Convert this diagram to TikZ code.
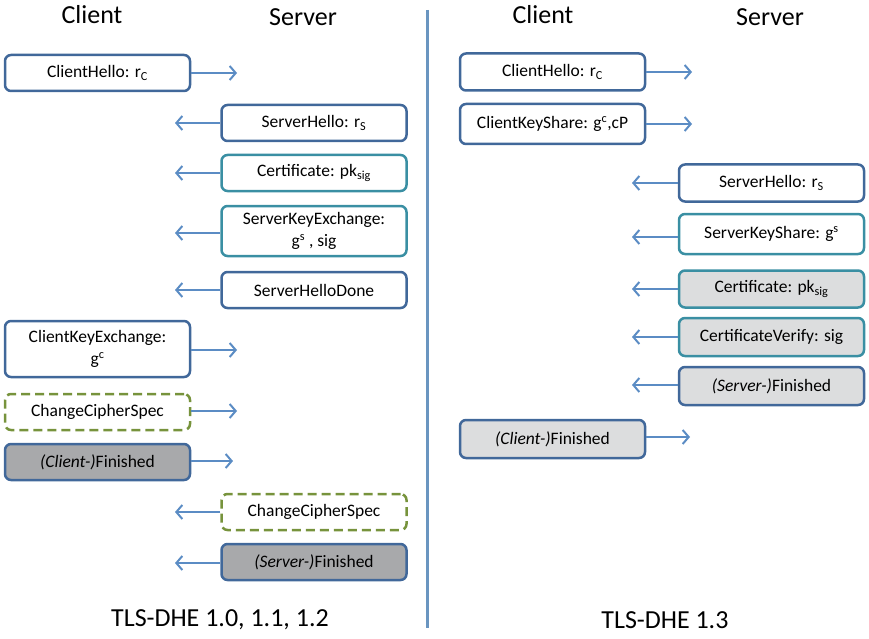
\documentclass[tikz,border=0pt]{standalone}
\usepackage{fontspec}
\setmainfont{Carlito}
\usetikzlibrary{arrows.meta}
\definecolor{bblue}{HTML}{41689A}
\definecolor{bteal}{HTML}{3A8FA3}
\definecolor{bgreen}{HTML}{77933C}
\definecolor{arr}{HTML}{5B8CC4}
\definecolor{dgray}{HTML}{A8A9AB}
\definecolor{lgray}{HTML}{DCDDDE}
\definecolor{divider}{HTML}{6A95C0}
\begin{document}
\begin{tikzpicture}[x=1pt,y=-1pt,
  msgbox/.style={draw=bblue, line width=2.5pt, rounded corners=6pt, minimum width=185pt,
    minimum height=36pt, font=\fontsize{17.5}{22}\selectfont, align=center, inner sep=2pt, text=black},
  tealbox/.style={msgbox, draw=bteal},
  dashbox/.style={msgbox, draw=bgreen, dash pattern=on 9pt off 5pt},
  darkbox/.style={msgbox, fill=dgray},
  lightbox/.style={msgbox, fill=lgray},
  msg/.style={draw=arr, line width=1.8pt, -{Straight Barb[length=6pt,width=14pt,line width=2pt]}},
  head/.style={font=\fontsize{26}{30}\selectfont},
  foot/.style={font=\fontsize{26}{30}\selectfont}]
\useasboundingbox (0,0) rectangle (869,639);

% headers
\node[head] (lcl) at (92,15) {Client};
\node[head] (lsv) at (303,17) {Server};
\node[head] (rcl) at (543,15) {Client};
\node[head] (rsv) at (770,17) {Server};
\node[foot] (lft) at (220,620) {TLS-DHE 1.0, 1.1, 1.2};
\node[foot] (rft) at (665,620) {TLS-DHE 1.3};

% divider
\coordinate (dtop) at (427,10);
\coordinate (dbot) at (427,628);
\draw[divider, line width=3pt] (dtop) -- (dbot);

% left column
\node[msgbox] (ch) at (97.5,73) {ClientHello: r\textsubscript{C}};
\node[msgbox] (sh) at (314,123) {ServerHello: r\textsubscript{S}};
\node[tealbox] (cert) at (314,173) {Certificate: pk\textsubscript{sig}};
\node[tealbox, minimum height=50pt] (ske) at (314,231) {ServerKeyExchange:\\ g\textsuperscript{s} , sig};
\node[msgbox] (shd) at (314,290) {ServerHelloDone};
\node[msgbox, minimum height=56pt] (cke) at (97.5,349) {ClientKeyExchange:\\ g\textsuperscript{c}};
\node[dashbox] (ccs) at (97.5,412) {ChangeCipherSpec};
\node[darkbox] (cf) at (97.5,462) {\textit{(Client-)}Finished};
\node[dashbox] (sccs) at (314,512) {ChangeCipherSpec};
\node[darkbox] (sf) at (314,562) {\textit{(Server-)}Finished};

\coordinate (ch-e) at (237,73);
\coordinate (sh-e) at (175,123);
\coordinate (cert-e) at (175,173);
\coordinate (ske-e) at (175,233);
\coordinate (shd-e) at (175,290);
\coordinate (cke-e) at (237,350);
\coordinate (ccs-e) at (237,411);
\coordinate (cf-e) at (233,461);
\coordinate (sccs-e) at (175,512);
\coordinate (sf-e) at (175,563);

\draw[msg] (ch.east) -- (ch-e);
\draw[msg] (sh.west) -- (sh-e);
\draw[msg] (cert.west) -- (cert-e);
\draw[msg] (ske.west |- ske-e) -- (ske-e);
\draw[msg] (shd.west) -- (shd-e);
\draw[msg] (cke.east |- cke-e) -- (cke-e);
\draw[msg] (ccs.east |- ccs-e) -- (ccs-e);
\draw[msg] (cf.east |- cf-e) -- (cf-e);
\draw[msg] (sccs.west) -- (sccs-e);
\draw[msg] (sf.west |- sf-e) -- (sf-e);

% right column
\node[msgbox, minimum height=37pt] (ch2) at (552.5,72) {ClientHello: r\textsubscript{C}};
\node[msgbox, minimum height=40pt] (cks) at (552.5,124) {ClientKeyShare: g\textsuperscript{c},cP};
\node[msgbox, minimum height=37pt] (sh2) at (771.5,183) {ServerHello: r\textsubscript{S}};
\node[tealbox, minimum height=40pt] (sks) at (771.5,234) {ServerKeyShare: g\textsuperscript{s}};
\node[tealbox, fill=lgray, minimum height=37pt] (cert2) at (771.5,289) {Certificate: pk\textsubscript{sig}};
\node[tealbox, fill=lgray, minimum height=38pt] (cv) at (771.5,337) {CertificateVerify: sig};
\node[lightbox, minimum height=38pt] (sf2) at (771.5,386) {\textit{(Server-)}Finished};
\node[lightbox, minimum height=38pt] (cf2) at (552.5,439) {\textit{(Client-)}Finished};

\coordinate (ch2-e) at (692,72);
\coordinate (cks-e) at (692,124);
\coordinate (sh2-e) at (632,183);
\coordinate (sks-e) at (632,237);
\coordinate (cert2-e) at (632,289);
\coordinate (cv-e) at (632,337);
\coordinate (sf2-e) at (632,385);
\coordinate (cf2-e) at (690,437);

\draw[msg] (ch2.east) -- (ch2-e);
\draw[msg] (cks.east) -- (cks-e);
\draw[msg] (sh2.west) -- (sh2-e);
\draw[msg] (sks.west |- sks-e) -- (sks-e);
\draw[msg] (cert2.west) -- (cert2-e);
\draw[msg] (cv.west) -- (cv-e);
\draw[msg] (sf2.west |- sf2-e) -- (sf2-e);
\draw[msg] (cf2.east |- cf2-e) -- (cf2-e);
\end{tikzpicture}
\end{document}
